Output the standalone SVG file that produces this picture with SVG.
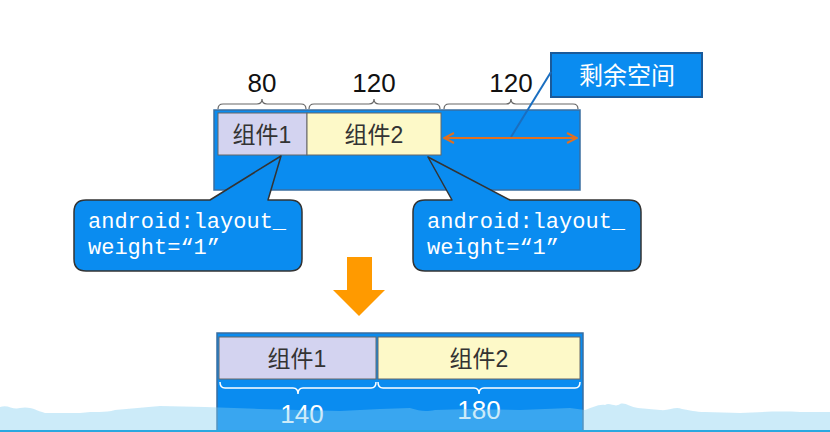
<svg xmlns="http://www.w3.org/2000/svg" width="830" height="432" viewBox="0 0 830 432">
<defs>
<style>
.cont{fill:#0a8cf0;stroke:#3a6ea0;stroke-width:1.5}
.c1{fill:#d3d3f0;stroke:#666;stroke-width:1}
.c2{fill:#fdf9c8;stroke:#666;stroke-width:1}
.cn{font-family:"Liberation Sans","Noto Sans CJK SC",sans-serif;font-size:23px;fill:#333;text-anchor:middle}
.num{font-family:"Liberation Sans",sans-serif;font-size:26px;fill:#111;text-anchor:middle}
.numw{font-family:"Liberation Sans",sans-serif;font-size:26px;fill:#fff;text-anchor:middle}
.brace{fill:none;stroke:#666;stroke-width:1.2}
.bracew{fill:none;stroke:#fff;stroke-width:1.5}
.bubble{fill:#0a8cf0;stroke:#333;stroke-width:1.5;stroke-linejoin:round}
.mono{font-family:"Liberation Mono",monospace;font-size:22px;fill:#fff}
</style>
<marker id="oh" viewBox="0 0 12 12" refX="11" refY="6" markerWidth="12" markerHeight="12" markerUnits="userSpaceOnUse" orient="auto-start-reverse">
<path d="M1,1 L11,6 L1,11" fill="none" stroke="#e07020" stroke-width="2"/>
</marker>
</defs>
<rect width="830" height="432" fill="#fff"/>

<g id="top-container">
<rect class="cont" x="214" y="110" width="366" height="80"/>
</g>
<g id="comp1-top">
<rect class="c1" x="218" y="113" width="89" height="42"/>
<text class="cn" x="262" y="143">组件1</text>
</g>
<g id="comp2-top">
<rect class="c2" x="307" y="113" width="134" height="42"/>
<text class="cn" x="374" y="143">组件2</text>
</g>
<g id="top-braces">
<path class="brace" d="M218,109 Q218,104 223,104 L257,104 Q262,104 262,99 Q262,104 267,104 L301,104 Q306,104 306,109"/>
<path class="brace" d="M309,109 Q309,104 314,104 L369,104 Q374,104 374,99 Q374,104 379,104 L435,104 Q440,104 440,109"/>
<path class="brace" d="M444,109 Q444,104 449,104 L506,104 Q511,104 511,99 Q511,104 516,104 L573,104 Q578,104 578,109"/>
<text class="num" x="262" y="92">80</text>
<text class="num" x="374" y="92">120</text>
<text class="num" x="511" y="92">120</text>
</g>
<g id="remaining-label">
<rect x="551" y="53" width="151" height="44" fill="#0a8cf0" stroke="#1a5a9a" stroke-width="2"/>
<text x="627" y="84" font-family="Liberation Sans,'Noto Sans CJK SC',sans-serif" font-size="24" fill="#fff" text-anchor="middle">剩余空间</text>
</g>
<g id="connectors">
<line x1="551" y1="72" x2="511" y2="137" stroke="#1a6ec0" stroke-width="2"/>
<line x1="444" y1="138" x2="577" y2="138" stroke="#e07020" stroke-width="2" marker-start="url(#oh)" marker-end="url(#oh)"/>
</g>
<g id="bubble-left">
<path class="bubble" d="M86,200 L210,200 L281,156 L268,200 L290,200 Q302,200 302,212 L302,259 Q302,271 290,271 L86,271 Q74,271 74,259 L74,212 Q74,200 86,200 Z"/>
<text class="mono" x="88" y="228">android:layout_</text>
<text class="mono" x="88" y="254">weight=“1”</text>
</g>
<g id="bubble-right">
<path class="bubble" d="M425,200 L452,200 L428,157 L510,200 L629,200 Q641,200 641,212 L641,259 Q641,271 629,271 L425,271 Q413,271 413,259 L413,212 Q413,200 425,200 Z"/>
<text class="mono" x="427" y="228">android:layout_</text>
<text class="mono" x="427" y="254">weight=“1”</text>
</g>
<g id="down-arrow">
<polygon points="347,257 372,257 372,290 385,290 359,316 333,290 347,290" fill="#ff9a00"/>
</g>
<g id="bottom-container">
<rect class="cont" x="217" y="333" width="366" height="110"/>
</g>
<g id="comp1-bottom">
<rect class="c1" x="219" y="337" width="157" height="42"/>
<text class="cn" x="297" y="367">组件1</text>
</g>
<g id="comp2-bottom">
<rect class="c2" x="378" y="337" width="202" height="42"/>
<text class="cn" x="479" y="367">组件2</text>
</g>
<g id="bottom-braces">
<path class="bracew" d="M220,382 Q220,388 225,388 L293,388 Q298,388 298,394 Q298,388 303,388 L371,388 Q376,388 376,382"/>
<path class="bracew" d="M378,382 Q378,388 383,388 L474,388 Q479,388 479,394 Q479,388 484,388 L575,388 Q580,388 580,382"/>
<text class="numw" x="302" y="423">140</text>
<text class="numw" x="479" y="419">180</text>
</g>
<path d="M0,407 C8,404 12,410 20,408 C30,406 35,410 45,413 L80,413 C95,411 105,413 115,410 L160,406 L205,407 L260,409 L300,410 L340,411 L380,409 L410,408 C420,411 425,412 435,410 L470,409 L520,410 L570,408 L585,410 C592,408 598,404 605,405 C610,402 615,408 620,404 C625,402 630,407 638,408 L660,410 C670,411 675,406 682,409 C690,410 695,412 705,412 L740,413 C760,412 780,411 800,412 L830,412 L830,432 L0,432 Z" fill="#80cdf0" opacity="0.4"/>
<rect x="0" y="430" width="830" height="2" fill="#2aa8e0"/>
</svg>
